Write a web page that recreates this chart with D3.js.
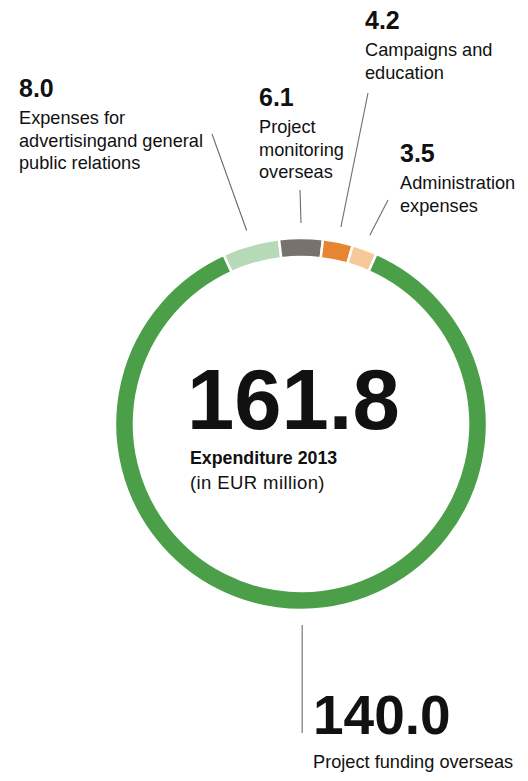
<!DOCTYPE html>
<html>
<head>
<meta charset="utf-8">
<script src="https://cdn.jsdelivr.net/npm/d3@7"></script>
<style>
  html, body { margin: 0; padding: 0; background: #fff; }
  svg { display: block; }
  text { font-family: "Liberation Sans", Arial, sans-serif; fill: #111; }
</style>
</head>
<body>
<svg id="chart" width="528" height="781"></svg>
<script>
// ---- data ----
const categories = [
  "Expenses for advertisingand general public relations",
  "Project monitoring overseas",
  "Campaigns and education",
  "Administration expenses",
  "Project funding overseas"
];
const values = [8.0, 6.1, 4.2, 3.5, 140.0];
const valueLabels = ["8.0", "6.1", "4.2", "3.5", "140.0"];
const labelLines = [
  ["Expenses for", "advertisingand general", "public relations"],
  ["Project", "monitoring", "overseas"],
  ["Campaigns and", "education"],
  ["Administration", "expenses"],
  ["Project funding overseas"]
];
const colors = ["#b6d9b7", "#78726f", "#e68631", "#f7c99a", "#4a9f48"];
const centerTitle = "Expenditure 2013";
const centerSub = "(in EUR million)";

// ---- layout ----
const W = 528, H = 781;
const cx = 301, cy = 424;
const outerR = 186, innerR = 167, leaderR = 201;
// label anchor layout: x, number baseline, leader outer end
const labelLayout = [
  { x: 19,  y: 97,  numSize: 25, lx: 212, ly: 134 },
  { x: 259, y: 106, numSize: 25, lx: 300, ly: 190 },
  { x: 365, y: 29,  numSize: 25, lx: 368, ly: 93 },
  { x: 400, y: 162, numSize: 25, lx: 388, ly: 200 },
  { x: 313, y: 734, numSize: 55, lx: null, ly: 733 }
];

const total = d3.sum(values);
const a0 = -((values[0] + values[1] / 2) / total) * 2 * Math.PI;

const svg = d3.select("#chart");
const g = svg.append("g").attr("transform", `translate(${cx},${cy})`);

const pie = d3.pie().sort(null).value(d => d)
  .startAngle(a0).endAngle(a0 + 2 * Math.PI);
const arcs = pie(values);
const arc = d3.arc().innerRadius(innerR).outerRadius(outerR);

g.selectAll("path.seg")
  .data(arcs)
  .join("path")
  .attr("class", "seg")
  .attr("d", arc)
  .attr("fill", (d, i) => colors[i])
  .attr("stroke", "#fff")
  .attr("stroke-width", 2.5);

// leader lines
const pt = (ang, r) => [cx + r * Math.sin(ang), cy - r * Math.cos(ang)];
svg.selectAll("line.leader")
  .data(arcs)
  .join("line")
  .attr("class", "leader")
  .each(function (d, i) {
    const mid = (d.startAngle + d.endAngle) / 2;
    const [x1, y1] = pt(mid, leaderR);
    const L = labelLayout[i];
    const x2 = L.lx === null ? x1 : L.lx;
    const y2 = L.ly;
    d3.select(this).attr("x1", x1).attr("y1", y1).attr("x2", x2).attr("y2", y2);
  })
  .attr("stroke", "#6b6b6b")
  .attr("stroke-width", 1.1);

// labels
const lab = svg.selectAll("g.lab")
  .data(arcs)
  .join("g")
  .attr("class", "lab");

lab.append("text")
  .attr("x", (d, i) => labelLayout[i].x)
  .attr("y", (d, i) => labelLayout[i].y)
  .attr("font-size", (d, i) => labelLayout[i].numSize)
  .attr("font-weight", "bold")
  .text((d, i) => valueLabels[i]);

lab.each(function (d, i) {
  const L = labelLayout[i];
  const big = L.numSize > 30;
  const t = d3.select(this).append("text")
    .attr("x", L.x)
    .attr("y", big ? L.y + 34 : L.y + 27)
    .attr("font-size", 18.2);
  labelLines[i].forEach((s, k) => {
    t.append("tspan").attr("x", L.x).attr("dy", k === 0 ? 0 : 22.5).text(s);
  });
});

// center
svg.append("text")
  .attr("x", 187).attr("y", 429)
  .attr("font-size", 85).attr("font-weight", "bold")
  .text(d3.format(".1f")(total));
svg.append("text")
  .attr("x", 190).attr("y", 464)
  .attr("font-size", 17.8).attr("font-weight", "bold")
  .text(centerTitle);
svg.append("text")
  .attr("x", 190).attr("y", 489)
  .attr("font-size", 18.5)
  .attr("letter-spacing", 0.4)
  .text(centerSub);
</script>
</body>
</html>
